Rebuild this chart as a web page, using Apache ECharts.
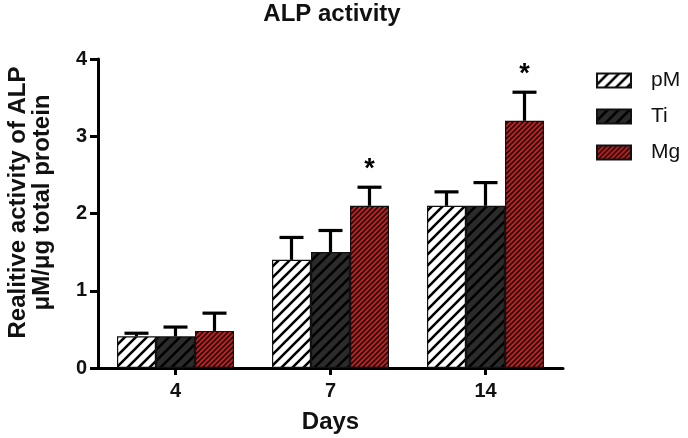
<!DOCTYPE html>
<html><head><meta charset="utf-8">
<script src="https://cdn.jsdelivr.net/npm/echarts@6/dist/echarts.min.js"></script>
<style>html,body{margin:0;padding:0;background:#fff}#c{width:688px;height:438px}</style>
</head><body><div id="c"></div>
<script>
var days = ['4', '7', '14'];
var seriesNames = ['pM', 'Ti', 'Mg'];
var pMValues = [0.41, 1.40, 2.10];
var pMErrors = [0.04, 0.29, 0.18];
var tiValues = [0.41, 1.50, 2.10];
var tiErrors = [0.12, 0.28, 0.30];
var mgValues = [0.48, 2.10, 3.20];
var mgErrors = [0.23, 0.24, 0.37];
var mgStars = ['', '*', '*'];
var yTicks = [0, 1, 2, 3, 4];

function stripes(bg, fg, size, width) {
  var c = document.createElement('canvas');
  c.width = size; c.height = size;
  var g = c.getContext('2d');
  g.fillStyle = bg; g.fillRect(0, 0, size, size);
  g.strokeStyle = fg; g.lineWidth = width; g.lineCap = 'square';
  g.beginPath();
  g.moveTo(0, size); g.lineTo(size, 0);
  g.moveTo(-size, size); g.lineTo(size, -size);
  g.moveTo(0, 2 * size); g.lineTo(2 * size, 0);
  g.stroke();
  return c;
}
var patPM = {image: stripes('#ffffff', '#000000', 11, 2.6), repeat: 'repeat'};
var patTi = {image: stripes('#2b2b2b', '#000000', 11, 2.6), repeat: 'repeat'};
var patMg = {image: stripes('#d21d1d', '#111111', 5, 1.6), repeat: 'repeat'};

var BW = 39;
var values = [pMValues, tiValues, mgValues];
var errors = [pMErrors, tiErrors, mgErrors];

function errSeries(k) {
  var data = days.map(function (d, i) { return [i, values[k][i], errors[k][i], k === 2 ? mgStars[i] : '']; });
  return {
    type: 'custom', z: 5, silent: true, legendHoverLink: false,
    renderItem: function (params, api) {
      var i = api.value(0), v = api.value(1), e = api.value(2);
      var base = api.coord([i, v]);
      var top = api.coord([i, v + e]);
      var x = base[0] + (k - 1) * BW;
      var children = [
        {type: 'line', shape: {x1: x, y1: base[1], x2: x, y2: top[1]}, style: {stroke: '#000', lineWidth: 3.2}},
        {type: 'line', shape: {x1: x - 12, y1: top[1], x2: x + 12, y2: top[1]}, style: {stroke: '#000', lineWidth: 3.2}}
      ];
      var star = data[params.dataIndex][3];
      if (star) {
        children.push({type: 'text', x: x, y: top[1] - 4, style: {text: star, fill: '#000', font: 'bold 27px "Liberation Sans", Arial, sans-serif', align: 'center', verticalAlign: 'bottom'}});
      }
      return {type: 'group', children: children};
    },
    data: data
  };
}

var chart = echarts.init(document.getElementById('c'), null, {renderer: 'canvas'});
var font = '"Liberation Sans", Arial, sans-serif';
chart.setOption({
  animation: false,
  backgroundColor: '#fff',
  title: {text: 'ALP activity', left: 332, textAlign: 'center', top: 2, padding: 0,
    textStyle: {fontFamily: font, fontWeight: 'bold', fontSize: 24, color: '#111'}},
  legend: {
    data: seriesNames, orient: 'vertical', left: 596, top: 70, padding: 0,
    itemWidth: 34, itemHeight: 14, itemGap: 15, icon: 'rect',
    textStyle: {fontFamily: font, fontSize: 21, color: '#111', lineHeight: 20, padding: [0, 0, 0, 15]}
  },
  grid: {left: 98, right: 125, top: 59, bottom: 70, containLabel: false, outerBoundsMode: 'none'},
  xAxis: {
    type: 'category', data: days,
    name: 'Days', nameLocation: 'middle', nameGap: 42,
    nameTextStyle: {fontFamily: font, fontWeight: 'bold', fontSize: 24, color: '#111'},
    axisLine: {lineStyle: {color: '#000', width: 3}},
    axisTick: {show: true, alignWithLabel: true, length: 7, lineStyle: {color: '#000', width: 3}},
    axisLabel: {fontFamily: font, fontWeight: 'bold', fontSize: 20, color: '#111', margin: 13}
  },
  yAxis: {
    type: 'value', min: 0, max: 4, interval: 1,
    name: 'Realitive activity of ALP\nμM/μg total protein', nameLocation: 'middle', nameGap: 44,
    nameTextStyle: {fontFamily: font, fontWeight: 'bold', fontSize: 24, color: '#111', lineHeight: 24, padding: [0, 0, 0, 22]},
    axisLine: {show: true, lineStyle: {color: '#000', width: 3}},
    axisTick: {show: true, length: 8, lineStyle: {color: '#000', width: 3}},
    splitLine: {show: false},
    axisLabel: {fontFamily: font, fontWeight: 'bold', fontSize: 20, color: '#111', margin: 11,
      formatter: function (v) { return yTicks.indexOf(v) >= 0 ? String(v) : ''; }}
  },
  series: [
    {name: 'pM', type: 'bar', data: pMValues, barWidth: BW, barGap: '0%',
      itemStyle: {color: patPM, borderColor: '#111', borderWidth: 1.2}},
    {name: 'Ti', type: 'bar', data: tiValues, barWidth: BW, barGap: '0%',
      itemStyle: {color: patTi, borderColor: '#111', borderWidth: 1.2}},
    {name: 'Mg', type: 'bar', data: mgValues, barWidth: BW, barGap: '0%',
      itemStyle: {color: patMg, borderColor: '#111', borderWidth: 1.2}},
    errSeries(0), errSeries(1), errSeries(2)
  ]
});
</script></body></html>
